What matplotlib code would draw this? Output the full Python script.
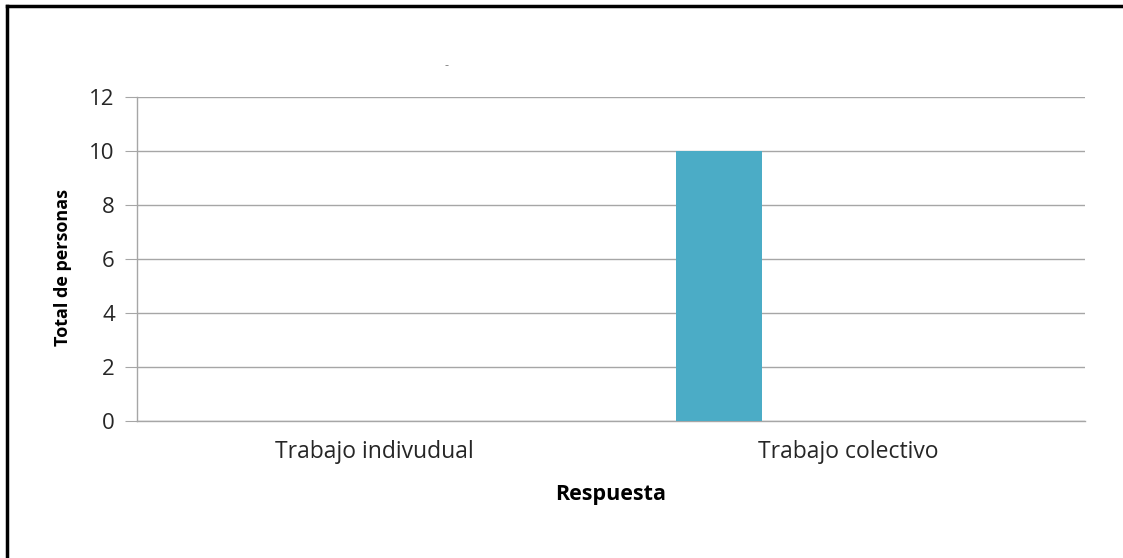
import matplotlib.pyplot as plt
from matplotlib.lines import Line2D
import numpy as np

categories = ["Trabajo indivudual", "Trabajo colectivo"]
series_values = [
    [0, 10],
    [0, 0],
    [0, 0],
    [0, 0],
]
y_ticks = [0, 2, 4, 6, 8, 10, 12]

plt.rcParams['font.family'] = ['Open Sans', 'DejaVu Sans']

fig = plt.figure(figsize=(11.23, 5.58), dpi=100)
ax = fig.add_axes([0.122, 0.2455, 0.844, 0.5807])

n_series = len(series_values)
gap = 1.5
bar_w = 1.0 / (n_series + gap)
x = np.arange(len(categories))
for i, vals in enumerate(series_values):
    offs = (i - (n_series - 1) / 2) * bar_w
    ax.bar(x + offs, vals, width=bar_w, color="#4BACC6", zorder=3)

ax.set_xlim(-0.5, len(categories) - 0.5)
ax.set_ylim(0, 12)
ax.set_yticks(y_ticks)
ax.set_xticks(x)
ax.set_xticklabels(categories)
ax.grid(axis='y', color='#A6A6A6', linewidth=1.0, zorder=0)

for s in ['top', 'right']:
    ax.spines[s].set_visible(False)
for s in ['left', 'bottom']:
    ax.spines[s].set_color('#A6A6A6')
    ax.spines[s].set_linewidth(1.0)

ax.tick_params(axis='y', length=9, color='#A6A6A6', labelsize=16,
               labelcolor='#262626', pad=7)
ax.tick_params(axis='x', length=0, labelsize=16.5, labelcolor='#262626', pad=14)

ax.set_ylabel("Total de personas", fontsize=13, fontweight='bold',
              color='#000000')
ax.yaxis.set_label_coords(-0.069, 0.475)
ax.set_xlabel("Respuesta", fontsize=15.5, fontweight='bold',
              color='#000000', labelpad=14)

fig.text(0.398, 0.883, "-", fontsize=9, color='#808080', ha='center', va='center')

# outer frame (left and top edges)
fig.add_artist(Line2D([0.0062, 0.0062], [0.0, 0.989], transform=fig.transFigure,
                      color='black', linewidth=2.5))
fig.add_artist(Line2D([0.0062, 1.0], [0.989, 0.989], transform=fig.transFigure,
                      color='black', linewidth=2.5))

fig.savefig("out.png", dpi=100, facecolor='white')
